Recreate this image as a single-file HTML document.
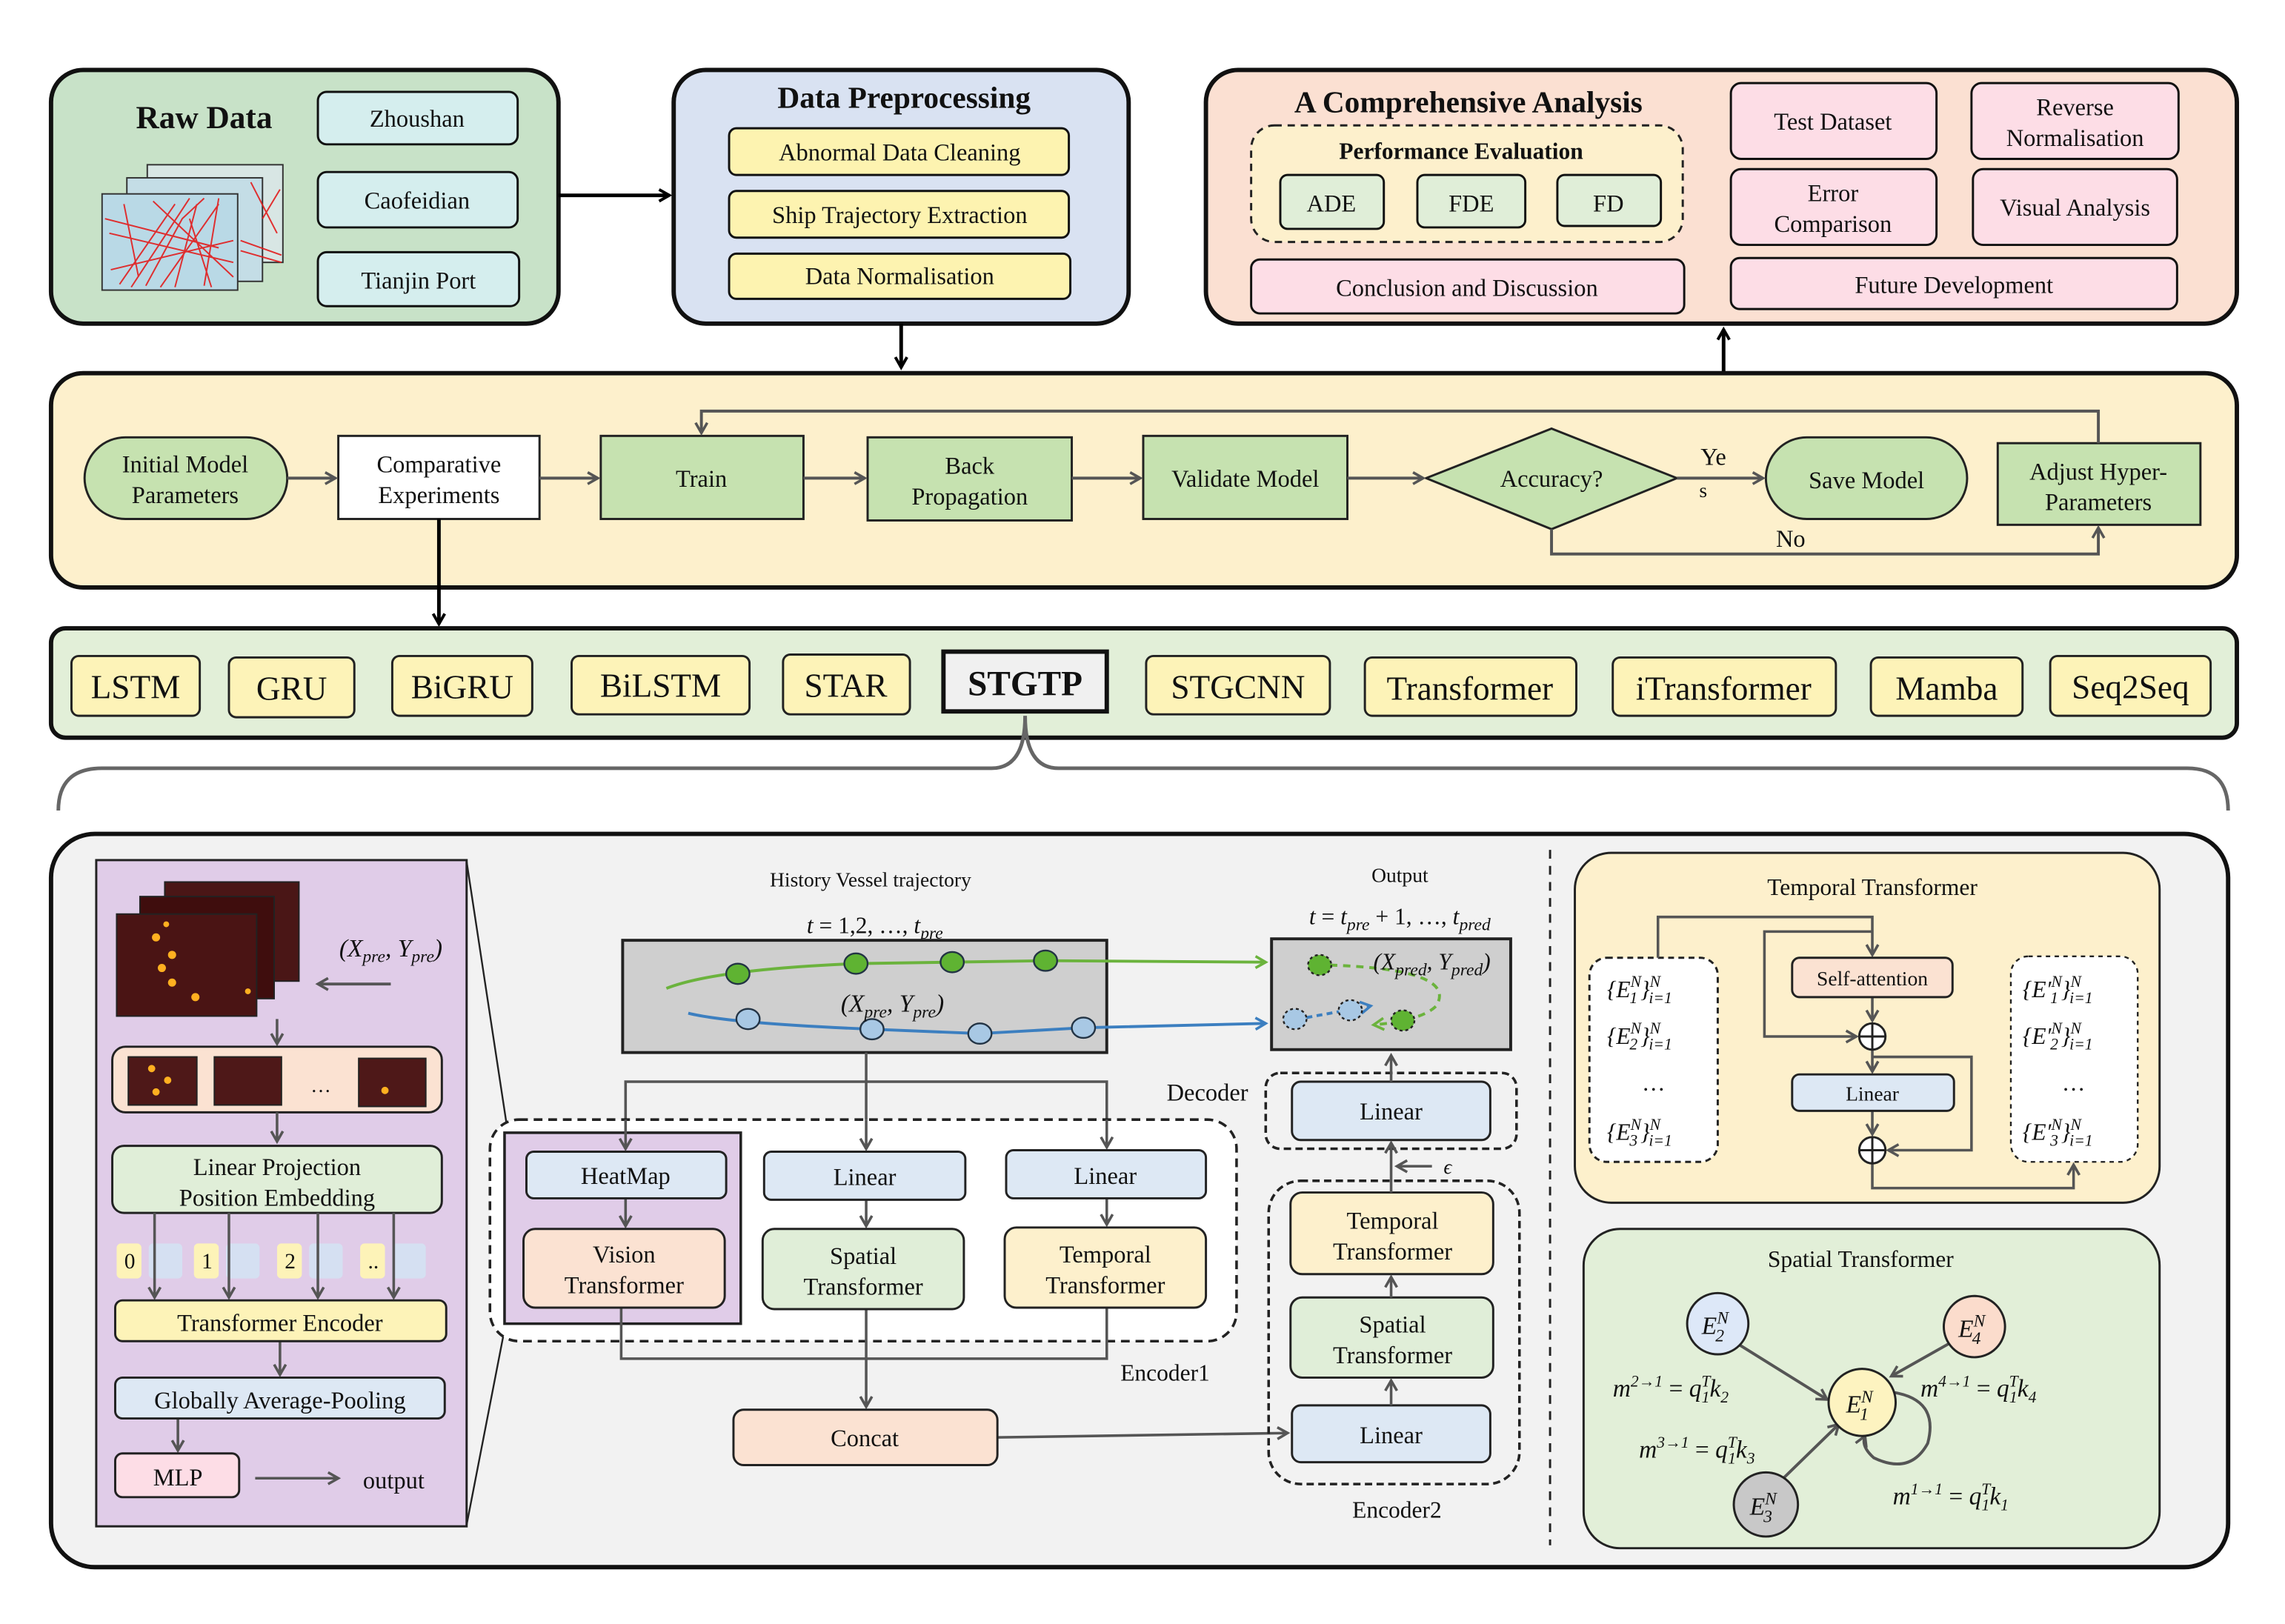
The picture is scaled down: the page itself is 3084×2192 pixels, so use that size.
<!DOCTYPE html>
<html><head><meta charset="utf-8"><style>
html,body{margin:0;padding:0;background:#fff;}
svg{display:block;}
text{font-family:"Liberation Serif",serif;fill:#111;}
.m{font-style:italic;}
</style></head><body>
<svg width="3084" height="2192" viewBox="0 0 1567 1114" preserveAspectRatio="none" xmlns="http://www.w3.org/2000/svg">
<defs>
<marker id="ak" markerWidth="10" markerHeight="10" refX="8" refY="5" orient="auto" markerUnits="userSpaceOnUse"><path d="M1,1 L8,5 L1,9" fill="none" stroke="#000" stroke-width="2"/></marker>
<marker id="ag" markerWidth="10" markerHeight="10" refX="8" refY="5" orient="auto" markerUnits="userSpaceOnUse"><path d="M1,1 L8,5 L1,9" fill="none" stroke="#555" stroke-width="1.8"/></marker>
<marker id="agr" markerWidth="10" markerHeight="10" refX="8" refY="5" orient="auto" markerUnits="userSpaceOnUse"><path d="M1,1 L8,5 L1,9" fill="none" stroke="#6bb33d" stroke-width="1.8"/></marker>
<marker id="abl" markerWidth="10" markerHeight="10" refX="8" refY="5" orient="auto" markerUnits="userSpaceOnUse"><path d="M1,1 L8,5 L1,9" fill="none" stroke="#3c7fc0" stroke-width="1.8"/></marker>
</defs>

<!-- ===== Raw Data ===== -->
<rect x="35" y="48" width="348" height="174" rx="22" fill="#c8e2c8" stroke="#111" stroke-width="3"/>
<text x="140" y="88" font-size="22" font-weight="bold" text-anchor="middle">Raw Data</text>
<g stroke="#333" stroke-width="1">
<rect x="101" y="113" width="93" height="67" fill="#d8e6e4"/>
<rect x="87" y="122" width="93" height="71" fill="#c4dde6"/>
<rect x="70" y="133" width="93" height="66" fill="#b9d9e6"/>
</g>
<g stroke="#e21b1b" stroke-width="1" fill="none" opacity="0.9">
<path d="M82,195 L120,140 M90,197 L130,136 M100,196 L125,150 L140,136 M110,197 L150,140 M75,160 L160,180 M72,150 L150,170 M120,197 L135,140 M145,197 L130,150 M85,140 L95,190 M105,138 L160,190 M150,136 L140,196 M76,185 L160,165 M165,165 L193,175 M165,172 L193,180 M172,125 L190,160 M180,150 L192,130"/>
</g>
<rect x="218" y="63" width="137" height="36" rx="6" fill="#d5eeee" stroke="#111" stroke-width="1.5"/>
<text x="286" y="87" font-size="16.5" text-anchor="middle">Zhoushan</text>
<rect x="218" y="118" width="137" height="38" rx="6" fill="#d5eeee" stroke="#111" stroke-width="1.5"/>
<text x="286" y="143" font-size="16.5" text-anchor="middle">Caofeidian</text>
<rect x="218" y="173" width="138" height="37" rx="6" fill="#d5eeee" stroke="#111" stroke-width="1.5"/>
<text x="287" y="198" font-size="16.5" text-anchor="middle">Tianjin Port</text>
<line x1="383" y1="134" x2="459" y2="134" stroke="#000" stroke-width="2.5" marker-end="url(#ak)"/>

<!-- ===== Data Preprocessing ===== -->
<rect x="462" y="48" width="312" height="174" rx="22" fill="#d9e2f2" stroke="#111" stroke-width="3"/>
<text x="620" y="74" font-size="21" font-weight="bold" text-anchor="middle">Data Preprocessing</text>
<rect x="500" y="88" width="233" height="32" rx="5" fill="#fdf3b0" stroke="#111" stroke-width="1.5"/>
<text x="617" y="110" font-size="16.5" text-anchor="middle">Abnormal Data Cleaning</text>
<rect x="500" y="131" width="233" height="32" rx="5" fill="#fdf3b0" stroke="#111" stroke-width="1.5"/>
<text x="617" y="153" font-size="16.5" text-anchor="middle">Ship Trajectory Extraction</text>
<rect x="500" y="174" width="234" height="31" rx="5" fill="#fdf3b0" stroke="#111" stroke-width="1.5"/>
<text x="617" y="195" font-size="16.5" text-anchor="middle">Data Normalisation</text>
<line x1="618" y1="222" x2="618" y2="252" stroke="#000" stroke-width="2.5" marker-end="url(#ak)"/>

<!-- ===== Comprehensive Analysis ===== -->
<rect x="827" y="48" width="707" height="174" rx="22" fill="#fbe0d2" stroke="#111" stroke-width="3"/>
<text x="1007" y="77" font-size="21" font-weight="bold" text-anchor="middle">A Comprehensive Analysis</text>
<rect x="858" y="86" width="296" height="80" rx="16" fill="#fdf0cc" stroke="#222" stroke-width="1.5" stroke-dasharray="5,4"/>
<text x="1002" y="109" font-size="16" font-weight="bold" text-anchor="middle">Performance Evaluation</text>
<rect x="878" y="120" width="71" height="37" rx="5" fill="#e0eed8" stroke="#111" stroke-width="1.5"/>
<text x="913" y="145" font-size="16.5" text-anchor="middle">ADE</text>
<rect x="972" y="120" width="74" height="36" rx="5" fill="#e0eed8" stroke="#111" stroke-width="1.5"/>
<text x="1009" y="145" font-size="16.5" text-anchor="middle">FDE</text>
<rect x="1068" y="120" width="71" height="35" rx="5" fill="#e0eed8" stroke="#111" stroke-width="1.5"/>
<text x="1103" y="145" font-size="16.5" text-anchor="middle">FD</text>
<g fill="#fddde6" stroke="#111" stroke-width="1.5">
<rect x="1187" y="57" width="141" height="52" rx="7"/>
<rect x="1352" y="57" width="142" height="52" rx="7"/>
<rect x="1187" y="116" width="141" height="52" rx="7"/>
<rect x="1353" y="116" width="140" height="52" rx="7"/>
<rect x="858" y="178" width="297" height="37" rx="6"/>
<rect x="1187" y="177" width="306" height="35" rx="6"/>
</g>
<g font-size="16.5" text-anchor="middle">
<text x="1257" y="89">Test Dataset</text>
<text x="1423" y="79">Reverse</text><text x="1423" y="100">Normalisation</text>
<text x="1257" y="138">Error</text><text x="1257" y="159">Comparison</text>
<text x="1423" y="148">Visual Analysis</text>
<text x="1006" y="203">Conclusion and Discussion</text>
<text x="1340" y="201">Future Development</text>
</g>
<line x1="1182" y1="256" x2="1182" y2="226" stroke="#000" stroke-width="2.5" marker-end="url(#ak)"/>

<!-- ===== Training loop ===== -->
<rect x="35" y="256" width="1499" height="147" rx="22" fill="#fdf0cc" stroke="#111" stroke-width="3"/>
<rect x="58" y="300" width="139" height="56" rx="28" fill="#c6e2b0" stroke="#222" stroke-width="1.5"/>
<text x="127" y="324" font-size="16.5" text-anchor="middle">Initial Model</text><text x="127" y="345" font-size="16.5" text-anchor="middle">Parameters</text>
<rect x="232" y="299" width="138" height="57" fill="#fff" stroke="#222" stroke-width="1.5"/>
<text x="301" y="324" font-size="16.5" text-anchor="middle">Comparative</text><text x="301" y="345" font-size="16.5" text-anchor="middle">Experiments</text>
<g fill="#c6e2b0" stroke="#222" stroke-width="1.5">
<rect x="412" y="299" width="139" height="57"/>
<rect x="595" y="300" width="140" height="57"/>
<rect x="784" y="299" width="140" height="57"/>
<path d="M978,328 L1064,294 L1150,328 L1064,363 Z"/>
<rect x="1211" y="300" width="138" height="56" rx="28"/>
<rect x="1370" y="304" width="139" height="56"/>
</g>
<g font-size="16.5" text-anchor="middle">
<text x="481" y="334">Train</text>
<text x="665" y="325">Back</text><text x="665" y="346">Propagation</text>
<text x="854" y="334">Validate Model</text>
<text x="1064" y="334">Accuracy?</text>
<text x="1280" y="335">Save Model</text>
<text x="1439" y="329">Adjust Hyper-</text><text x="1439" y="350">Parameters</text>
<text x="1175" y="319">Ye</text><text x="1168" y="341" font-size="14">s</text>
<text x="1228" y="375">No</text>
</g>
<g stroke="#555" stroke-width="2" fill="none">
<line x1="197" y1="328" x2="230" y2="328" marker-end="url(#ag)"/>
<line x1="370" y1="328" x2="410" y2="328" marker-end="url(#ag)"/>
<line x1="551" y1="328" x2="593" y2="328" marker-end="url(#ag)"/>
<line x1="735" y1="328" x2="782" y2="328" marker-end="url(#ag)"/>
<line x1="924" y1="328" x2="976" y2="328" marker-end="url(#ag)"/>
<line x1="1150" y1="328" x2="1209" y2="328" marker-end="url(#ag)"/>
<path d="M1439,304 L1439,282 L481,282 L481,297" marker-end="url(#ag)"/>
<path d="M1064,363 L1064,380 L1439,380 L1439,362" marker-end="url(#ag)"/>
</g>
<line x1="301" y1="356" x2="301" y2="428" stroke="#000" stroke-width="2.5" marker-end="url(#ak)"/>

<!-- ===== Models ===== -->
<rect x="35" y="431" width="1499" height="75" rx="10" fill="#e2efd8" stroke="#111" stroke-width="3"/>
<g fill="#fdf3b8" stroke="#222" stroke-width="1.5">
<rect x="49" y="450" width="88" height="41" rx="5"/>
<rect x="157" y="451" width="86" height="41" rx="5"/>
<rect x="269" y="450" width="96" height="41" rx="5"/>
<rect x="392" y="450" width="122" height="40" rx="5"/>
<rect x="537" y="449" width="87" height="41" rx="5"/>
<rect x="786" y="450" width="126" height="40" rx="5"/>
<rect x="936" y="451" width="145" height="40" rx="5"/>
<rect x="1106" y="451" width="153" height="40" rx="5"/>
<rect x="1283" y="451" width="104" height="40" rx="5"/>
<rect x="1406" y="450" width="110" height="41" rx="5"/>
</g>
<rect x="647" y="447" width="112" height="41" fill="#f0f0f0" stroke="#111" stroke-width="3"/>
<g font-size="23" text-anchor="middle">
<text x="93" y="479">LSTM</text>
<text x="200" y="480">GRU</text>
<text x="317" y="479">BiGRU</text>
<text x="453" y="478">BiLSTM</text>
<text x="580" y="478">STAR</text>
<text x="703" y="477" font-weight="bold" font-size="24">STGTP</text>
<text x="849" y="479">STGCNN</text>
<text x="1008" y="480">Transformer</text>
<text x="1182" y="480">iTransformer</text>
<text x="1335" y="480">Mamba</text>
<text x="1461" y="479">Seq2Seq</text>
</g>
<path d="M40,556 Q40,527 70,527 L680,527 Q703,527 703,491 Q703,527 726,527 L1500,527 Q1528,527 1528,556" fill="none" stroke="#666" stroke-width="2.5"/>

<!-- ===== Bottom panel ===== -->
<rect x="35" y="572" width="1493" height="503" rx="30" fill="#f2f2f2" stroke="#111" stroke-width="3"/>
<line x1="1063" y1="583" x2="1063" y2="1060" stroke="#222" stroke-width="1.5" stroke-dasharray="6,5"/>

<!-- left purple -->
<rect x="66" y="590" width="254" height="457" fill="#e0cce8" stroke="#222" stroke-width="1.5"/>
<line x1="320" y1="591" x2="348" y2="775" stroke="#222" stroke-width="1.2"/>
<line x1="320" y1="1046" x2="346" y2="912" stroke="#222" stroke-width="1.2"/>
<g stroke="#222" stroke-width="1">
<rect x="113" y="605" width="92" height="68" fill="#4a1616"/>
<rect x="96" y="615" width="92" height="70" fill="#3f0d0d"/>
<rect x="80" y="627" width="96" height="70" fill="#4a1414"/>
</g>
<g fill="#ffb020">
<circle cx="107" cy="643" r="2.8"/><circle cx="118" cy="655" r="2.8"/><circle cx="111" cy="664" r="2.8"/><circle cx="118" cy="674" r="2.8"/><circle cx="134" cy="684" r="2.8"/><circle cx="114" cy="634" r="2"/><circle cx="170" cy="680" r="2"/>
</g>
<text x="268" y="656" font-size="17" text-anchor="middle" class="m">(X<tspan font-size="12" dy="4">pre</tspan><tspan dy="-4">, Y</tspan><tspan font-size="12" dy="4">pre</tspan><tspan dy="-4">)</tspan></text>
<line x1="268" y1="675" x2="218" y2="675" stroke="#555" stroke-width="2" marker-end="url(#ag)"/>
<line x1="190" y1="699" x2="190" y2="716" stroke="#555" stroke-width="1.8" marker-end="url(#ag)"/>
<rect x="77" y="718" width="226" height="45" rx="9" fill="#fbe2d2" stroke="#222" stroke-width="1.5"/>
<rect x="88" y="725" width="47" height="33" fill="#4e1818" stroke="#222"/>
<rect x="147" y="725" width="46" height="33" fill="#4e1818" stroke="#222"/>
<rect x="246" y="726" width="46" height="33" fill="#4e1818" stroke="#222"/>
<g fill="#ffb020"><circle cx="104" cy="733" r="2.5"/><circle cx="115" cy="741" r="2.5"/><circle cx="107" cy="749" r="2.5"/><circle cx="264" cy="748" r="2.5"/></g>
<text x="220" y="749" font-size="14" text-anchor="middle">…</text>
<line x1="190" y1="763" x2="190" y2="783" stroke="#555" stroke-width="1.8" marker-end="url(#ag)"/>
<rect x="77" y="786" width="226" height="46" rx="8" fill="#e0eed8" stroke="#222" stroke-width="1.5"/>
<text x="190" y="806" font-size="16.5" text-anchor="middle">Linear Projection</text>
<text x="190" y="827" font-size="16.5" text-anchor="middle">Position Embedding</text>
<g stroke="none">
<rect x="80" y="853" width="17" height="24" rx="3" fill="#fdf3b8"/><rect x="102" y="853" width="23" height="24" rx="3" fill="#d5e0f2"/>
<rect x="133" y="853" width="17" height="24" rx="3" fill="#fdf3b8"/><rect x="155" y="853" width="23" height="24" rx="3" fill="#d5e0f2"/>
<rect x="190" y="853" width="17" height="24" rx="3" fill="#fdf3b8"/><rect x="212" y="853" width="23" height="24" rx="3" fill="#d5e0f2"/>
<rect x="247" y="853" width="17" height="24" rx="3" fill="#fdf3b8"/><rect x="269" y="853" width="23" height="24" rx="3" fill="#d5e0f2"/>
</g>
<g font-size="15" text-anchor="middle"><text x="89" y="870">0</text><text x="142" y="870">1</text><text x="199" y="870">2</text><text x="256" y="870">..</text></g>
<g stroke="#555" stroke-width="1.8">
<line x1="106" y1="832" x2="106" y2="890" marker-end="url(#ag)"/>
<line x1="157" y1="832" x2="157" y2="890" marker-end="url(#ag)"/>
<line x1="218" y1="832" x2="218" y2="890" marker-end="url(#ag)"/>
<line x1="270" y1="832" x2="270" y2="890" marker-end="url(#ag)"/>
<line x1="192" y1="920" x2="192" y2="943" marker-end="url(#ag)"/>
<line x1="122" y1="973" x2="122" y2="995" marker-end="url(#ag)"/>
<line x1="175" y1="1014" x2="232" y2="1014" marker-end="url(#ag)"/>
</g>
<rect x="79" y="892" width="227" height="28" rx="5" fill="#fdf3b8" stroke="#222" stroke-width="1.5"/>
<text x="192" y="913" font-size="16.5" text-anchor="middle">Transformer Encoder</text>
<rect x="79" y="945" width="226" height="28" rx="5" fill="#dde8f4" stroke="#222" stroke-width="1.5"/>
<text x="192" y="966" font-size="16.5" text-anchor="middle">Globally Average-Pooling</text>
<rect x="79" y="997" width="85" height="30" rx="5" fill="#fddde6" stroke="#222" stroke-width="1.5"/>
<text x="122" y="1019" font-size="16.5" text-anchor="middle">MLP</text>
<text x="270" y="1021" font-size="16.5" text-anchor="middle">output</text>

<!-- middle -->
<text x="597" y="608" font-size="14" text-anchor="middle">History Vessel trajectory</text>
<text x="600" y="640" font-size="16" text-anchor="middle" class="m">t <tspan font-style="normal">= 1,2, …,</tspan> t<tspan font-size="12" dy="4">pre</tspan></text>
<text x="960" y="605" font-size="14" text-anchor="middle">Output</text>
<text x="960" y="634" font-size="16" text-anchor="middle" class="m">t <tspan font-style="normal">=</tspan> t<tspan font-size="12" dy="4">pre</tspan><tspan dy="-4" font-style="normal"> + 1, …,</tspan> t<tspan font-size="12" dy="4">pred</tspan></text>
<rect x="427" y="645" width="332" height="77" fill="#cfcfcf" stroke="#222" stroke-width="2"/>
<rect x="872" y="644" width="164" height="76" fill="#cfcfcf" stroke="#222" stroke-width="2"/>
<path d="M457,678 Q490,665 587,661 L717,659 L868,660" fill="none" stroke="#6bb33d" stroke-width="2" marker-end="url(#agr)"/>
<path d="M472,695 Q500,702 598,706 L672,709 L743,705 L868,702" fill="none" stroke="#3c7fc0" stroke-width="2" marker-end="url(#abl)"/>
<g fill="#5fb332" stroke="#234" stroke-width="1.2">
<ellipse cx="506" cy="668" rx="8" ry="7"/><ellipse cx="587" cy="661" rx="8" ry="7"/><ellipse cx="653" cy="660" rx="8" ry="7"/><ellipse cx="717" cy="659" rx="8" ry="7"/>
</g>
<g fill="#a8c8e4" stroke="#234" stroke-width="1.2">
<ellipse cx="513" cy="699" rx="8" ry="7"/><ellipse cx="598" cy="706" rx="8" ry="7"/><ellipse cx="672" cy="709" rx="8" ry="7"/><ellipse cx="743" cy="705" rx="8" ry="7"/>
</g>
<text x="612" y="694" font-size="17" text-anchor="middle" class="m">(X<tspan font-size="12" dy="4">pre</tspan><tspan dy="-4">, Y</tspan><tspan font-size="12" dy="4">pre</tspan><tspan dy="-4">)</tspan></text>
<path d="M912,662 Q1000,665 985,690 Q975,700 942,703" fill="none" stroke="#6bb33d" stroke-width="2" stroke-dasharray="5,4" marker-end="url(#agr)"/>
<path d="M896,698 L940,690" fill="none" stroke="#3c7fc0" stroke-width="2" stroke-dasharray="4,3" marker-end="url(#abl)"/>
<ellipse cx="905" cy="662" rx="8" ry="7" fill="#5fb332" stroke="#222" stroke-width="1.2" stroke-dasharray="2,2"/>
<ellipse cx="962" cy="700" rx="8" ry="7" fill="#5fb332" stroke="#222" stroke-width="1.2" stroke-dasharray="2,2"/>
<ellipse cx="888" cy="699" rx="8" ry="7" fill="#a8c8e4" stroke="#222" stroke-width="1.2" stroke-dasharray="2,2"/>
<ellipse cx="926" cy="693" rx="8" ry="7" fill="#a8c8e4" stroke="#222" stroke-width="1.2" stroke-dasharray="2,2"/>
<text x="982" y="665" font-size="16" text-anchor="middle" class="m">(X<tspan font-size="12" dy="4">pred</tspan><tspan dy="-4">, Y</tspan><tspan font-size="12" dy="4">pred</tspan><tspan dy="-4">)</tspan></text>

<g stroke="#555" stroke-width="1.8" fill="none">
<line x1="594" y1="722" x2="594" y2="788" marker-end="url(#ag)"/>
<path d="M429,785 L429,742 L759,742 L759,785" />
</g>
<rect x="336" y="768" width="512" height="152" rx="20" fill="#fff" stroke="#222" stroke-width="1.8" stroke-dasharray="6,4"/>
<text x="799" y="947" font-size="16" text-anchor="middle">Encoder1</text>
<rect x="346" y="777" width="162" height="131" fill="#e0cce8" stroke="#222" stroke-width="1.8"/>
<g stroke="#555" stroke-width="1.8" fill="none">
<line x1="429" y1="768" x2="429" y2="788" marker-end="url(#ag)"/>
<line x1="594" y1="768" x2="594" y2="788" marker-end="url(#ag)"/>
<line x1="759" y1="768" x2="759" y2="787" marker-end="url(#ag)"/>
<line x1="429" y1="822" x2="429" y2="841" marker-end="url(#ag)"/>
<line x1="594" y1="823" x2="594" y2="841" marker-end="url(#ag)"/>
<line x1="759" y1="822" x2="759" y2="840" marker-end="url(#ag)"/>
<path d="M426,897 L426,932 L759,932 L759,897"/>
<line x1="594" y1="898" x2="594" y2="965" marker-end="url(#ag)"/>
<line x1="684" y1="986" x2="883" y2="983" marker-end="url(#ag)"/>
</g>
<rect x="361" y="790" width="137" height="32" rx="5" fill="#dde8f4" stroke="#222" stroke-width="1.5"/>
<text x="429" y="812" font-size="16.5" text-anchor="middle">HeatMap</text>
<rect x="359" y="843" width="138" height="54" rx="8" fill="#fbe2d2" stroke="#222" stroke-width="1.5"/>
<text x="428" y="866" font-size="16.5" text-anchor="middle">Vision</text><text x="428" y="887" font-size="16.5" text-anchor="middle">Transformer</text>
<rect x="524" y="790" width="138" height="33" rx="5" fill="#dde8f4" stroke="#222" stroke-width="1.5"/>
<text x="593" y="813" font-size="16.5" text-anchor="middle">Linear</text>
<rect x="523" y="843" width="138" height="55" rx="8" fill="#e0eed8" stroke="#222" stroke-width="1.5"/>
<text x="592" y="867" font-size="16.5" text-anchor="middle">Spatial</text><text x="592" y="888" font-size="16.5" text-anchor="middle">Transformer</text>
<rect x="690" y="789" width="137" height="33" rx="5" fill="#dde8f4" stroke="#222" stroke-width="1.5"/>
<text x="758" y="812" font-size="16.5" text-anchor="middle">Linear</text>
<rect x="689" y="842" width="138" height="55" rx="8" fill="#fdf0cc" stroke="#222" stroke-width="1.5"/>
<text x="758" y="866" font-size="16.5" text-anchor="middle">Temporal</text><text x="758" y="887" font-size="16.5" text-anchor="middle">Transformer</text>
<rect x="503" y="967" width="181" height="38" rx="7" fill="#fbe2d2" stroke="#222" stroke-width="1.5"/>
<text x="593" y="992" font-size="16.5" text-anchor="middle">Concat</text>

<!-- decoder/encoder2 -->
<rect x="868" y="736" width="172" height="52" rx="10" fill="none" stroke="#222" stroke-width="1.8" stroke-dasharray="5,3"/>
<text x="828" y="755" font-size="16.5" text-anchor="middle">Decoder</text>
<rect x="886" y="742" width="136" height="40" rx="6" fill="#dde8f4" stroke="#222" stroke-width="1.5"/>
<text x="954" y="768" font-size="16.5" text-anchor="middle">Linear</text>
<rect x="870" y="810" width="172" height="208" rx="22" fill="none" stroke="#222" stroke-width="1.8" stroke-dasharray="5,3"/>
<text x="958" y="1041" font-size="16" text-anchor="middle">Encoder2</text>
<rect x="885" y="818" width="139" height="56" rx="8" fill="#fdf0cc" stroke="#222" stroke-width="1.5"/>
<text x="955" y="843" font-size="16.5" text-anchor="middle">Temporal</text><text x="955" y="864" font-size="16.5" text-anchor="middle">Transformer</text>
<rect x="885" y="890" width="139" height="55" rx="8" fill="#e0eed8" stroke="#222" stroke-width="1.5"/>
<text x="955" y="914" font-size="16.5" text-anchor="middle">Spatial</text><text x="955" y="935" font-size="16.5" text-anchor="middle">Transformer</text>
<rect x="886" y="964" width="136" height="39" rx="6" fill="#dde8f4" stroke="#222" stroke-width="1.5"/>
<text x="954" y="990" font-size="16.5" text-anchor="middle">Linear</text>
<g stroke="#555" stroke-width="1.8" fill="none">
<line x1="954" y1="742" x2="954" y2="724" marker-end="url(#ag)"/>
<line x1="954" y1="818" x2="954" y2="784" marker-end="url(#ag)"/>
<line x1="954" y1="890" x2="954" y2="876" marker-end="url(#ag)"/>
<line x1="954" y1="964" x2="954" y2="947" marker-end="url(#ag)"/>
<line x1="982" y1="800" x2="958" y2="800" marker-end="url(#ag)"/>
</g>
<text x="990" y="805" font-size="14" class="m">ϵ</text>

<!-- Temporal transformer panel -->
<rect x="1080" y="585" width="401" height="240" rx="25" fill="#fdf0cc" stroke="#222" stroke-width="1.5"/>
<text x="1284" y="614" font-size="16" text-anchor="middle">Temporal Transformer</text>
<rect x="1090" y="657" width="88" height="140" rx="12" fill="#fff" stroke="#222" stroke-width="1.5" stroke-dasharray="4,3"/>
<rect x="1379" y="656" width="87" height="141" rx="12" fill="#fff" stroke="#222" stroke-width="1.2" stroke-dasharray="3,3"/>
<g stroke="#555" stroke-width="1.8" fill="none">
<path d="M1137,657 L1137,629 L1284,629 L1284,655" marker-end="url(#ag)"/>
<path d="M1284,639 L1210,639 L1210,711 L1273,711" marker-end="url(#ag)"/>
<line x1="1284" y1="684" x2="1284" y2="700" marker-end="url(#ag)"/>
<line x1="1284" y1="720" x2="1284" y2="735" marker-end="url(#ag)"/>
<path d="M1284,725 L1352,725 L1352,789 L1295,789" marker-end="url(#ag)"/>
<line x1="1284" y1="762" x2="1284" y2="778" marker-end="url(#ag)"/>
<path d="M1284,798 L1284,815 L1422,815 L1422,799" marker-end="url(#ag)"/>
</g>
<rect x="1229" y="657" width="110" height="27" rx="5" fill="#fbe2d2" stroke="#222" stroke-width="1.5"/>
<text x="1284" y="676" font-size="14" text-anchor="middle">Self-attention</text>
<rect x="1229" y="737" width="111" height="25" rx="5" fill="#dde8f4" stroke="#222" stroke-width="1.5"/>
<text x="1284" y="755" font-size="14" text-anchor="middle">Linear</text>
<g fill="#fff" stroke="#222" stroke-width="1.5">
<circle cx="1284" cy="711" r="9"/><circle cx="1284" cy="789" r="9"/>
</g>
<path d="M1275,711 H1293 M1284,702 V720 M1275,789 H1293 M1284,780 V798" stroke="#222" stroke-width="1.5"/>
<g font-size="16" class="m">
<text x="1102" y="684">{E<tspan font-size="11" dy="-7">N</tspan><tspan font-size="11" dx="-8" dy="11">1</tspan><tspan dy="-4" dx="2">}</tspan><tspan font-size="11" dy="-7">N</tspan><tspan font-size="11" dx="-8" dy="11">i=1</tspan></text>
<text x="1102" y="716">{E<tspan font-size="11" dy="-7">N</tspan><tspan font-size="11" dx="-8" dy="11">2</tspan><tspan dy="-4" dx="2">}</tspan><tspan font-size="11" dy="-7">N</tspan><tspan font-size="11" dx="-8" dy="11">i=1</tspan></text>
<text x="1126" y="748" font-style="normal">…</text>
<text x="1102" y="782">{E<tspan font-size="11" dy="-7">N</tspan><tspan font-size="11" dx="-8" dy="11">3</tspan><tspan dy="-4" dx="2">}</tspan><tspan font-size="11" dy="-7">N</tspan><tspan font-size="11" dx="-8" dy="11">i=1</tspan></text>
<text x="1387" y="684">{E′<tspan font-size="11" dy="-7">N</tspan><tspan font-size="11" dx="-8" dy="11">1</tspan><tspan dy="-4" dx="2">}</tspan><tspan font-size="11" dy="-7">N</tspan><tspan font-size="11" dx="-8" dy="11">i=1</tspan></text>
<text x="1387" y="716">{E′<tspan font-size="11" dy="-7">N</tspan><tspan font-size="11" dx="-8" dy="11">2</tspan><tspan dy="-4" dx="2">}</tspan><tspan font-size="11" dy="-7">N</tspan><tspan font-size="11" dx="-8" dy="11">i=1</tspan></text>
<text x="1414" y="748" font-style="normal">…</text>
<text x="1387" y="782">{E′<tspan font-size="11" dy="-7">N</tspan><tspan font-size="11" dx="-8" dy="11">3</tspan><tspan dy="-4" dx="2">}</tspan><tspan font-size="11" dy="-7">N</tspan><tspan font-size="11" dx="-8" dy="11">i=1</tspan></text>
</g>

<!-- Spatial transformer panel -->
<rect x="1086" y="843" width="395" height="219" rx="25" fill="#e2efd8" stroke="#222" stroke-width="1.5"/>
<text x="1276" y="869" font-size="16" text-anchor="middle">Spatial Transformer</text>
<g stroke="#555" stroke-width="2" fill="none">
<line x1="1192" y1="922" x2="1253" y2="960" marker-end="url(#ag)"/>
<line x1="1336" y1="922" x2="1297" y2="944" marker-end="url(#ag)"/>
<line x1="1223" y1="1014" x2="1261" y2="977" marker-end="url(#ag)"/>
<path d="M1298,955 Q1330,960 1322,990 Q1310,1012 1285,1000 Q1276,992 1279,985" marker-end="url(#ag)"/>
</g>
<circle cx="1178" cy="908" r="21" fill="#dde8f8" stroke="#222" stroke-width="1.5"/>
<circle cx="1354" cy="910" r="21" fill="#fbdccc" stroke="#222" stroke-width="1.5"/>
<circle cx="1277" cy="962" r="23" fill="#fdf3c0" stroke="#222" stroke-width="1.5"/>
<circle cx="1211" cy="1032" r="22" fill="#c8c8c8" stroke="#222" stroke-width="1.5"/>
<g font-size="17" class="m">
<text x="1167" y="915">E<tspan font-size="12" dy="-7">N</tspan><tspan font-size="12" dx="-9" dy="12">2</tspan></text>
<text x="1343" y="917">E<tspan font-size="12" dy="-7">N</tspan><tspan font-size="12" dx="-9" dy="12">4</tspan></text>
<text x="1266" y="969">E<tspan font-size="12" dy="-7">N</tspan><tspan font-size="12" dx="-9" dy="12">1</tspan></text>
<text x="1200" y="1039">E<tspan font-size="12" dy="-7">N</tspan><tspan font-size="12" dx="-9" dy="12">3</tspan></text>
</g>
<g font-size="17" class="m">
<text x="1106" y="958">m<tspan font-size="11" dy="-7">2→1</tspan><tspan dy="7" font-style="normal"> = </tspan>q<tspan font-size="11" dy="-7">T</tspan><tspan font-size="11" dx="-6" dy="11">1</tspan><tspan dy="-4">k</tspan><tspan font-size="11" dy="4">2</tspan></text>
<text x="1317" y="958">m<tspan font-size="11" dy="-7">4→1</tspan><tspan dy="7" font-style="normal"> = </tspan>q<tspan font-size="11" dy="-7">T</tspan><tspan font-size="11" dx="-6" dy="11">1</tspan><tspan dy="-4">k</tspan><tspan font-size="11" dy="4">4</tspan></text>
<text x="1124" y="1000">m<tspan font-size="11" dy="-7">3→1</tspan><tspan dy="7" font-style="normal"> = </tspan>q<tspan font-size="11" dy="-7">T</tspan><tspan font-size="11" dx="-6" dy="11">1</tspan><tspan dy="-4">k</tspan><tspan font-size="11" dy="4">3</tspan></text>
<text x="1298" y="1032">m<tspan font-size="11" dy="-7">1→1</tspan><tspan dy="7" font-style="normal"> = </tspan>q<tspan font-size="11" dy="-7">T</tspan><tspan font-size="11" dx="-6" dy="11">1</tspan><tspan dy="-4">k</tspan><tspan font-size="11" dy="4">1</tspan></text>
</g>
</svg>
</body></html>
